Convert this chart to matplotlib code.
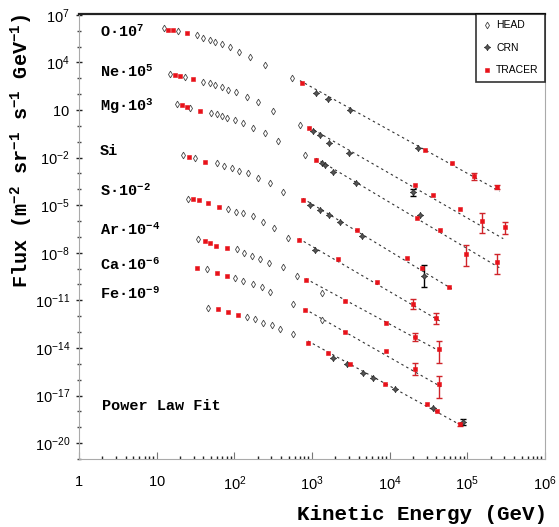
import numpy as np
import matplotlib
matplotlib.use('Agg')
import matplotlib.pyplot as plt
from matplotlib.lines import Line2D
from matplotlib.ticker import FixedLocator, FixedFormatter, NullFormatter

plt.rcParams['mathtext.fontset'] = 'custom'
plt.rcParams['mathtext.rm'] = 'Liberation Mono:bold'
plt.rcParams['mathtext.it'] = 'Liberation Mono:bold'
plt.rcParams['mathtext.bf'] = 'Liberation Mono:bold'
plt.rcParams['mathtext.sf'] = 'Liberation Sans'

# energies in GeV, fluxes read as log10 values off the log axis (already scaled)
# --- O x10^7
o_head_e = [12.4, 18.8, 33.0, 39.4, 48.5, 56.3, 69.2, 87.8, 115, 159, 248, 551]
o_head_lf = [6.18, 5.99, 5.73, 5.55, 5.42, 5.29, 5.17, 4.98, 4.66, 4.34, 3.84, 3.02]
o_tracer_e = [14.0, 16.2, 24.5, 741, 28400, 63100, 121000, 240000]
o_tracer_lf = [6.05, 6.05, 5.86, 2.70, -1.54, -2.36, -3.18, -3.88]
o_tracer_lo = [0, 0, 0, 0, 0, 0, 0.22, 0.12]
o_tracer_hi = [0, 0, 0, 0, 0, 0, 0.22, 0.12]
o_crn_e = [1120, 1600, 3080, 23100]
o_crn_lf = [2.07, 1.69, 0.99, -1.41]
o_crn_err = [0, 0, 0, 0]
o_fit_e = [700, 2.6e5]
o_fit_lf = [2.85, -4.12]

# --- Ne x10^5
ne_head_e = [14.8, 23.1, 39.4, 48.5, 56.3, 69.2, 82.7, 105, 145, 201, 314, 699]
ne_head_lf = [3.27, 3.08, 2.76, 2.70, 2.57, 2.45, 2.26, 2.13, 1.81, 1.50, 0.93, 0.04]
ne_tracer_e = [17.2, 19.9, 29.3, 912, 21100, 36000, 80000, 154000, 304000]
ne_tracer_lf = [3.21, 3.14, 2.95, -0.15, -3.75, -4.39, -5.27, -5.97, -6.35]
ne_tracer_lo = [0, 0, 0, 0, 0, 0, 0, 0.80, 0.45]
ne_tracer_hi = [0, 0, 0, 0, 0, 0, 0, 0.50, 0.30]
ne_crn_e = [1030, 1270, 1650, 2990, 19900]
ne_crn_lf = [-0.34, -0.59, -1.10, -1.73, -4.20]
ne_crn_err = [0, 0, 0, 0, 0.2]
ne_fit_e = [912, 2.9e5]
ne_fit_lf = [-0.08, -7.11]

# --- Mg x10^3
mg_head_e = [18.2, 26.8, 50.0, 59.7, 69.2, 80.3, 102, 129, 174, 248, 364, 810]
mg_head_lf = [1.37, 1.12, 0.80, 0.74, 0.61, 0.49, 0.36, 0.17, -0.15, -0.46, -0.97, -1.86]
mg_tracer_e = [21.2, 24.5, 36.1, 1120, 22400, 44300, 95700, 240000]
mg_tracer_lf = [1.31, 1.18, 0.93, -2.17, -5.78, -6.54, -8.05, -8.56]
mg_tracer_lo = [0, 0, 0, 0, 0, 0, 0.76, 0.76]
mg_tracer_hi = [0, 0, 0, 0, 0, 0, 0.57, 0.51]
mg_crn_e = [1340, 1470, 1860, 3680, 24500]
mg_crn_lf = [-2.36, -2.49, -2.93, -3.63, -5.65]
mg_crn_err = [0, 0, 0, 0, 0]
mg_fit_e = [1120, 2.6e5]
mg_fit_lf = [-2.05, -8.95]

# --- Si
si_head_e = [21.8, 31.1, 59.7, 73.5, 93.2, 115, 150, 201, 287, 422]
si_head_lf = [-1.86, -2.05, -2.36, -2.55, -2.68, -2.87, -2.99, -3.31, -3.63, -4.20]
si_tracer_e = [26.0, 41.9, 764, 3780, 16600, 26000, 57800]
si_tracer_lf = [-1.98, -2.30, -4.70, -6.54, -8.31, -8.94, -10.14]
si_tracer_lo = [0, 0, 0, 0, 0, 0, 0]
si_tracer_hi = [0, 0, 0, 0, 0, 0, 0]
si_crn_e = [939, 1270, 1650, 2290, 4390, 27500]
si_crn_lf = [-5.02, -5.33, -5.65, -6.09, -6.92, -9.45]
si_crn_err = [0, 0, 0, 0, 0, 0.7]
si_fit_e = [764, 6.3e4]
si_fit_lf = [-4.58, -10.27]

# --- S x10^-2
s_head_e = [25.3, 82.7, 105, 129, 174, 233, 323, 490]
s_head_lf = [-4.64, -5.27, -5.40, -5.52, -5.71, -6.03, -6.41, -7.04]
s_tracer_e = [29.3, 35.0, 45.7, 63.4, 678, 2160, 6840, 19900, 39400]
s_tracer_lf = [-4.64, -4.70, -4.89, -5.14, -7.17, -8.37, -9.82, -11.22, -12.10]
s_tracer_lo = [0, 0, 0, 0, 0, 0, 0, 0.30, 0.38]
s_tracer_hi = [0, 0, 0, 0, 0, 0, 0, 0.30, 0.32]
s_crn_e = [1090]
s_crn_lf = [-7.80]
s_crn_err = [0]
s_fit_e = [678, 4.4e4]
s_fit_lf = [-7.11, -12.29]

# --- Ar x10^-4
ar_head_e = [34.0, 108, 133, 169, 214, 279, 422, 639, 1340]
ar_head_lf = [-7.11, -7.74, -7.99, -8.18, -8.37, -8.62, -8.88, -9.45, -10.52]
ar_tracer_e = [41.9, 48.5, 58.0, 80.3, 834, 2650, 8930, 21100, 43000]
ar_tracer_lf = [-7.23, -7.36, -7.55, -7.67, -9.70, -11.03, -12.42, -13.30, -14.06]
ar_tracer_lo = [0, 0, 0, 0, 0, 0, 0, 0.25, 0.89]
ar_tracer_hi = [0, 0, 0, 0, 0, 0, 0, 0.25, 0.51]
ar_crn_e = []
ar_crn_lf = []
ar_crn_err = []
ar_fit_e = [834, 4.6e4]
ar_fit_lf = [-9.64, -14.25]

# --- Ca x10^-6
ca_head_e = [44.4, 102, 129, 174, 227, 287, 568, 1340]
ca_head_lf = [-9.00, -9.57, -9.76, -9.95, -10.14, -10.46, -11.22, -12.23]
ca_tracer_e = [33.0, 59.7, 80.3, 810, 2650, 8930, 21100, 43000]
ca_tracer_lf = [-8.94, -9.26, -9.45, -11.60, -12.99, -14.19, -15.33, -16.28]
ca_tracer_lo = [0, 0, 0, 0, 0, 0, 0.35, 0.88]
ca_tracer_hi = [0, 0, 0, 0, 0, 0, 0.35, 0.51]
ca_crn_e = []
ca_crn_lf = []
ca_crn_err = []
ca_fit_e = [810, 4.6e4]
ca_fit_lf = [-11.55, -16.45]

# --- Fe x10^-9
fe_head_e = [45.7, 145, 184, 233, 305, 386, 568]
fe_head_lf = [-11.47, -12.04, -12.17, -12.42, -12.54, -12.80, -13.11]
fe_tracer_e = [61.5, 82.7, 111, 885, 1600, 3080, 8670, 30100, 40500, 80000]
fe_tracer_lf = [-11.53, -11.72, -11.91, -13.68, -14.32, -15.01, -16.28, -17.54, -17.98, -18.81]
fe_tracer_lo = [0, 0, 0, 0, 0, 0, 0, 0, 0, 0.1]
fe_tracer_hi = [0, 0, 0, 0, 0, 0, 0, 0, 0, 0.1]
fe_crn_e = [1860, 2810, 4520, 6080, 11700, 36000, 87500]
fe_crn_lf = [-14.63, -15.01, -15.58, -15.90, -16.59, -17.79, -18.68]
fe_crn_err = [0, 0, 0, 0, 0, 0, 0.2]
fe_fit_e = [885, 8.7e4]
fe_fit_lf = [-13.56, -18.93]

labels = ['O·10$^{7}$', 'Ne·10$^{5}$', 'Mg·10$^{3}$', 'Si', 'S·10$^{-2}$',
          'Ar·10$^{-4}$', 'Ca·10$^{-6}$', 'Fe·10$^{-9}$']
label_y = [32, 72, 106, 151, 191, 230, 265, 294]   # pixel rows of the labels

series = [
    (o_head_e, o_head_lf, o_tracer_e, o_tracer_lf, o_tracer_lo, o_tracer_hi, o_crn_e, o_crn_lf, o_crn_err, o_fit_e, o_fit_lf),
    (ne_head_e, ne_head_lf, ne_tracer_e, ne_tracer_lf, ne_tracer_lo, ne_tracer_hi, ne_crn_e, ne_crn_lf, ne_crn_err, ne_fit_e, ne_fit_lf),
    (mg_head_e, mg_head_lf, mg_tracer_e, mg_tracer_lf, mg_tracer_lo, mg_tracer_hi, mg_crn_e, mg_crn_lf, mg_crn_err, mg_fit_e, mg_fit_lf),
    (si_head_e, si_head_lf, si_tracer_e, si_tracer_lf, si_tracer_lo, si_tracer_hi, si_crn_e, si_crn_lf, si_crn_err, si_fit_e, si_fit_lf),
    (s_head_e, s_head_lf, s_tracer_e, s_tracer_lf, s_tracer_lo, s_tracer_hi, s_crn_e, s_crn_lf, s_crn_err, s_fit_e, s_fit_lf),
    (ar_head_e, ar_head_lf, ar_tracer_e, ar_tracer_lf, ar_tracer_lo, ar_tracer_hi, ar_crn_e, ar_crn_lf, ar_crn_err, ar_fit_e, ar_fit_lf),
    (ca_head_e, ca_head_lf, ca_tracer_e, ca_tracer_lf, ca_tracer_lo, ca_tracer_hi, ca_crn_e, ca_crn_lf, ca_crn_err, ca_fit_e, ca_fit_lf),
    (fe_head_e, fe_head_lf, fe_tracer_e, fe_tracer_lf, fe_tracer_lo, fe_tracer_hi, fe_crn_e, fe_crn_lf, fe_crn_err, fe_fit_e, fe_fit_lf),
]

RED = '#e8121a'
W, H = 559, 527
fig = plt.figure(figsize=(W / 100, H / 100), dpi=100)
ax = fig.add_axes([79 / W, 1 - 459 / H, 466 / W, 445 / H])
ax.set_xscale('log')
ax.set_yscale('log')

HEAD_STYLE = dict(marker='d', ms=3.4, mfc='white', mec='#444444', mew=0.6)
CRN_STYLE = dict(marker=(4, 1, 0), ms=4.6, mfc='#555555', mec='#222222', mew=0.5)
TRACER_STYLE = dict(marker='s', ms=3.3, mfc=RED, mec=RED, mew=0.4)

for (he, hlf, te, tlf, tlo, thi, ce, clf, cerr, fe_, flf) in series:
    # power law fit
    ax.plot(fe_, 10 ** np.array(flf), color='#333333', lw=0.8,
            ls=(0, (2.2, 2.8)), zorder=1)
    # TRACER error bars
    te = np.array(te, float)
    tf = 10 ** np.array(tlf)
    tlo = np.array(tlo)
    thi = np.array(thi)
    m = (tlo > 0) | (thi > 0)
    if m.any():
        ax.errorbar(te[m], tf[m],
                    yerr=[tf[m] - 10 ** (np.array(tlf)[m] - tlo[m]),
                          10 ** (np.array(tlf)[m] + thi[m]) - tf[m]],
                    fmt='none', ecolor='#d0242a', elinewidth=1.0,
                    capsize=2.2, capthick=1.0, zorder=3)
    # CRN
    if len(ce):
        ce = np.array(ce, float)
        cf = 10 ** np.array(clf)
        cerr = np.array(cerr)
        k = cerr > 0
        if k.any():
            ax.errorbar(ce[k], cf[k],
                        yerr=[cf[k] - 10 ** (np.array(clf)[k] - cerr[k]),
                              10 ** (np.array(clf)[k] + cerr[k]) - cf[k]],
                        fmt='none', ecolor='black', elinewidth=1.0,
                        capsize=2, zorder=3)
        ax.plot(ce, cf, ls='none', zorder=4, **CRN_STYLE)
    # HEAD
    ax.plot(he, 10 ** np.array(hlf), ls='none', zorder=4, **HEAD_STYLE)
    # TRACER
    ax.plot(te, tf, ls='none', zorder=5, **TRACER_STYLE)

ax.set_xlim(1, 1e6)
ax.set_ylim(1e-21, 10 ** 7.05)

# ticks
xt = [1, 10, 1e2, 1e3, 1e4, 1e5, 1e6]
xl = [r'$\mathsf{1}$', r'$\mathsf{10}$'] + [r'$\mathsf{10^{%d}}$' % k for k in range(2, 7)]
ax.xaxis.set_major_locator(FixedLocator(xt))
ax.xaxis.set_major_formatter(FixedFormatter(xl))
xminor = [m * 10.0 ** d for d in range(0, 6) for m in range(2, 10)]
ax.xaxis.set_minor_locator(FixedLocator(xminor))
ax.xaxis.set_minor_formatter(NullFormatter())

yt = [10.0 ** k for k in range(7, -21, -3)]
yl = []
for k in range(7, -21, -3):
    yl.append(r'$\mathsf{10}$' if k == 1 else r'$\mathsf{10^{%d}}$' % k)
ax.yaxis.set_major_locator(FixedLocator(yt))
ax.yaxis.set_major_formatter(FixedFormatter(yl))
ax.yaxis.set_minor_locator(FixedLocator([10.0 ** k for k in range(-21, 8)]))
ax.yaxis.set_minor_formatter(NullFormatter())

ax.tick_params(axis='x', which='major', direction='in', length=5, width=0.8,
               color='#777777', pad=11, labelsize=10.5)
ax.tick_params(axis='x', which='minor', direction='in', length=2.5, width=1.0,
               color='#222222')
ax.tick_params(axis='y', which='major', direction='inout', length=5, width=1.0,
               color='#222222', pad=4, labelsize=10.5)
ax.tick_params(axis='y', which='minor', direction='inout', length=3, width=1.0,
               color='#444444')

for side in ['left', 'right', 'bottom']:
    ax.spines[side].set_color('#aaaaaa')
    ax.spines[side].set_linewidth(0.8)
ax.spines['top'].set_color('#222222')
ax.spines['top'].set_linewidth(1.6)

# element labels (pixel positions converted to figure fraction)
for lab, py in zip(labels, label_y):
    fig.text(100 / W, 1 - py / H, lab, fontsize=11, family='Liberation Mono',
             fontweight='bold', va='center', ha='left')

fig.text(102 / W, 1 - 406 / H, 'Power Law Fit', fontsize=11,
         family='Liberation Mono', fontweight='bold', va='center', ha='left')

# axis labels
fig.text(547 / W, 1 - 515 / H, 'Kinetic Energy (GeV)', fontsize=15,
         family='Liberation Mono', fontweight='bold', ha='right', va='center')
fig.text(22 / W, 1 - 151 / H,
         'Flux (m$^{-2}$ sr$^{-1}$ s$^{-1}$ GeV$^{-1}$)', fontsize=14.5,
         family='Liberation Mono', fontweight='bold', rotation=90,
         ha='center', va='center')

# legend
handles = [
    Line2D([], [], ls='none', **HEAD_STYLE),
    Line2D([], [], ls='none', **CRN_STYLE),
    Line2D([], [], ls='none', **TRACER_STYLE),
]
leg = ax.legend(handles, ['HEAD', 'CRN', 'TRACER'], loc='upper right',
                borderaxespad=0, frameon=True, fancybox=False,
                prop={'family': 'Liberation Sans', 'size': 7.5},
                handlelength=0.8, handletextpad=0.5, labelspacing=1.2,
                borderpad=0.6)
leg.get_frame().set_edgecolor('black')
leg.get_frame().set_linewidth(1.2)

fig.savefig('out.png', dpi=100)
